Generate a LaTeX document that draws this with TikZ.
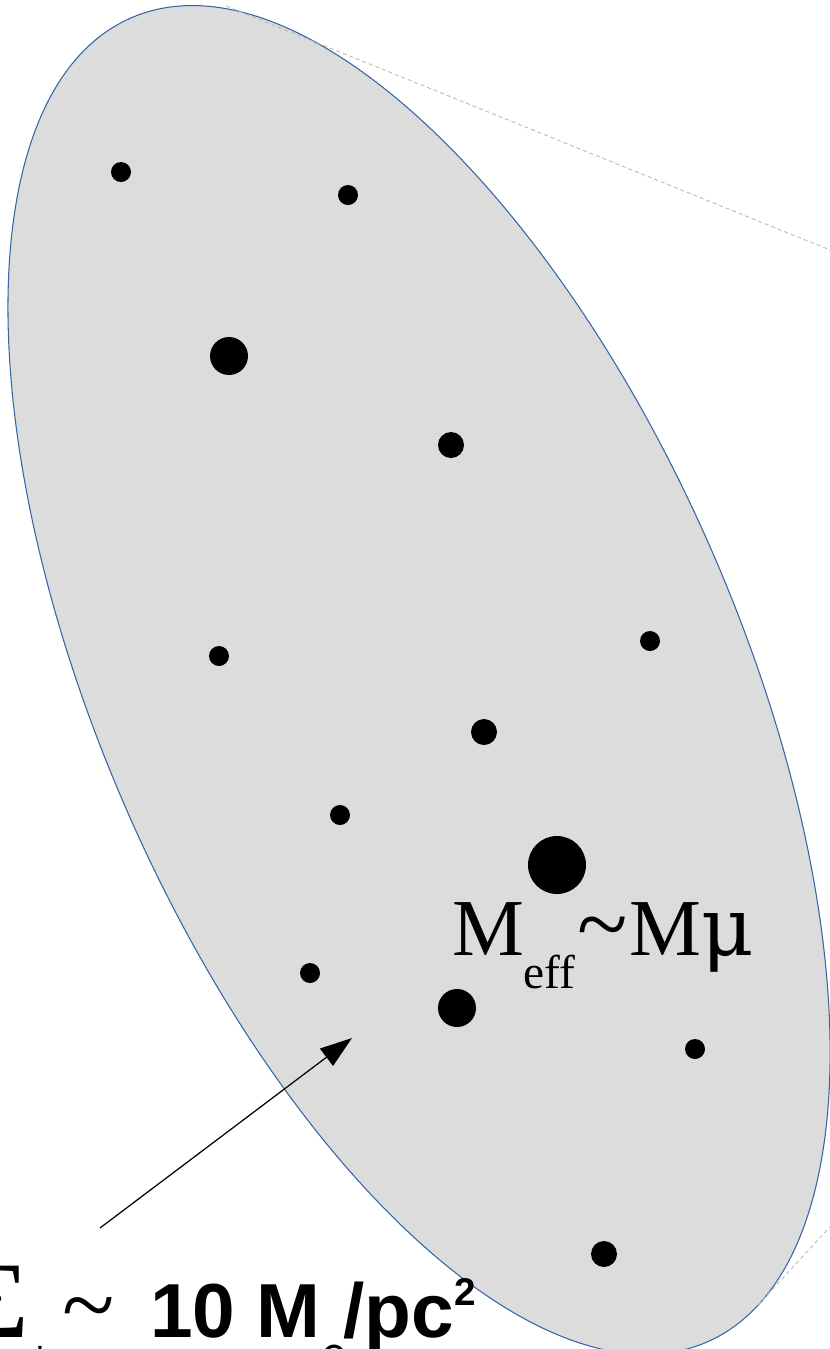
\documentclass[tikz,border=0pt]{standalone}
\usepackage{fontspec}
\setmainfont{Liberation Serif}
\newfontfamily\labelsans{Liberation Sans}
\newfontfamily\symsans{DejaVu Sans}
\newfontfamily\symserif{DejaVu Serif}
\usetikzlibrary{positioning,calc,arrows.meta}
\definecolor{cFill}{HTML}{DCDCDC}
\definecolor{cEdge}{HTML}{3465A4}
\definecolor{cDash}{HTML}{B8B8B8}
\newcommand\fsz[1]{\fontsize{#1}{#1}\selectfont}
\tikzset{
  cluster/.style={fill=cFill,draw=cEdge,line width=0.6pt},
  mstar/.style={circle,fill=black,inner sep=0pt,minimum size=#1},
  guide/.style={draw=cDash,line width=0.5pt,dash pattern=on 0.8mm off 0.6mm},
  pointer/.style={-{Triangle[length=6.4mm,width=4.3mm]},line width=0.7pt,black},
  lbl/.style={anchor=base west,inner sep=0pt,outer sep=0pt},
}

\begin{document}
\begin{tikzpicture}[x=0.2mm,y=0.2mm]
  \useasboundingbox (0,-1349) rectangle (830,0);
  % the cluster
  \coordinate (ctr) at (419,-680);
  \draw[cluster,rotate around={-66.5:(ctr)}] (ctr) ellipse [x radius=722,y radius=320];
  % stars
  \foreach \n/\x/\y/\r in {1/121/172/10,2/348/195/10,3/229/356/19,4/451/445/13,5/219/656/10,
    6/650/641/10,7/484/732/13,8/340/815/10,9/557/865/29,10/310/973/10,11/457/1008/19,
    12/695/1049/10,13/604/1254/13}
    \node[mstar={2*\r*0.2mm}] (s\n) at (\x,-\y) {};
  % guide lines to the zoom
  \coordinate (ga) at (226,-6);
  \coordinate (gb) at (840,-254);
  \coordinate (gc) at (758,-1305);
  \coordinate (gd) at (840,-1216);
  \draw[guide] (ga) -- (gb);
  \draw[guide] (gc) -- (gd);
  % labels
  \node[lbl] (meff) at (452,-955) {\fsz{46}M\raisebox{-18.8pt}{\fsz{27}eff}\hspace{1pt}{\fsz{53}\textasciitilde}\hspace{1pt}M{\symserif\fsz{46}μ}};
  \node[lbl] (sigma) at (-35,-1337) {{\fsz{62}Σ}\raisebox{-23pt}{\fsz{27}*}\hspace{6pt}{\fsz{55}\textasciitilde}\hspace{20pt}{\labelsans\bfseries\fsz{43.6}10 M}\makebox[13pt][l]{\raisebox{-17pt}{\symsans\bfseries\fsz{19}⊙}}{\labelsans\bfseries\fsz{43.6}/pc}\raisebox{18pt}{\labelsans\bfseries\fsz{22}2}};
  \coordinate (tail) at (100,-1228);
  \coordinate (tip) at (352,-1038);
  \draw[pointer] (tail) -- (tip);
\end{tikzpicture}
\end{document}
